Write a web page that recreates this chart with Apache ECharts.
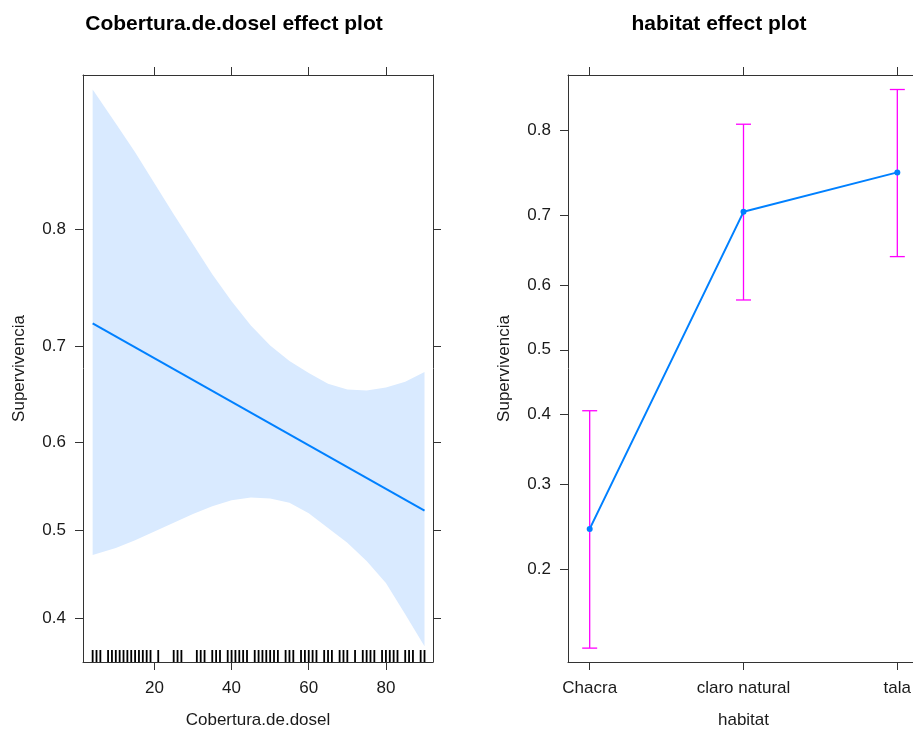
<!DOCTYPE html>
<html>
<head>
<meta charset="utf-8">
<script src="https://cdn.jsdelivr.net/npm/echarts@6/dist/echarts.min.js"></script>
<style>
html,body{margin:0;padding:0;background:#fff;overflow:hidden;}
#chart{width:913px;height:729px;}
</style>
</head>
<body>
<div id="chart"></div>
<script>
// ---- Data ----
const coberturaX = [4, 10, 15, 20, 25, 30, 35, 40, 45, 50, 55, 60, 65, 70, 75, 80, 85, 90];
const bandUpper  = [0.884, 0.867, 0.851, 0.832, 0.811, 0.789, 0.765, 0.742, 0.720, 0.701, 0.686, 0.674, 0.663, 0.657, 0.656, 0.659, 0.665, 0.675];
const bandLower  = [0.472, 0.480, 0.489, 0.499, 0.509, 0.519, 0.528, 0.535, 0.538, 0.537, 0.532, 0.520, 0.503, 0.486, 0.465, 0.440, 0.405, 0.370];
const fitX = [4, 90];
const fitP = [0.722, 0.523];
const rugX = [4, 5, 6, 8, 9, 10, 11, 12, 13, 14, 15, 16, 17, 18, 19, 21, 25, 26, 27, 31, 32, 33, 35, 36, 37, 39, 40, 41, 42, 43, 44, 46,
              47, 48, 49, 50, 51, 52, 54, 55, 56, 58, 59, 60, 61, 62, 64, 65, 66, 68, 69, 70, 72, 74, 75, 76, 77, 79, 80, 81, 82, 83, 85, 86, 87, 89, 90];

const habitatCats  = ['Chacra', 'claro natural', 'tala'];
const habitatFit   = [0.244, 0.705, 0.754];
const habitatLower = [0.132, 0.578, 0.643];
const habitatUpper = [0.405, 0.806, 0.838];

const xTicksLeft  = [20, 40, 60, 80];
const yTicksLeft  = [0.4, 0.5, 0.6, 0.7, 0.8];
const yTicksRight = [0.2, 0.3, 0.4, 0.5, 0.6, 0.7, 0.8];

// ---- helpers ----
const logit = p => Math.log(p / (1 - p));
const FONT = 'Liberation Sans, Arial, Helvetica, sans-serif';
const AX = '#333333';
const TXT = '#1a1a1a';
function probLabel(ticks) {
  return v => {
    for (const t of ticks) if (Math.abs(logit(t) - v) < 1e-6) return String(t);
    return '';
  };
}

const leftYMin = -0.605, leftYMax = 2.098;
const rightYMin = -1.971, rightYMax = 1.735;

function xAxisCfg(grid, pos, min, max, ticks, fmt, showLabel, name) {
  return {
    type: 'value', gridIndex: grid, position: pos, min: min, max: max,
    axisLine: { show: true, onZero: false, lineStyle: { color: AX, width: 1 } },
    axisTick: { show: true, inside: false, length: 8, customValues: ticks, lineStyle: { color: AX, width: 1 } },
    axisLabel: { show: showLabel, customValues: ticks, formatter: fmt, fontSize: 17, color: TXT, fontFamily: FONT, margin: 18 },
    splitLine: { show: false },
    name: name || '', nameLocation: 'middle', nameGap: 50,
    nameTextStyle: { fontSize: 17, color: TXT, fontFamily: FONT }
  };
}
function yAxisCfg(grid, pos, min, max, ticks, showLabel, name, gap) {
  const vals = ticks.map(logit);
  return {
    type: 'value', gridIndex: grid, position: pos, min: min, max: max,
    axisLine: { show: true, onZero: false, lineStyle: { color: AX, width: 1 } },
    axisTick: { show: true, inside: false, length: 8, customValues: vals, lineStyle: { color: AX, width: 1 } },
    axisLabel: { show: showLabel, customValues: vals, formatter: probLabel(ticks), fontSize: 17, color: TXT, fontFamily: FONT, margin: 17 },
    splitLine: { show: false },
    name: name || '', nameLocation: 'middle', nameGap: gap || 50, nameRotate: 90,
    nameTextStyle: { fontSize: 17, color: TXT, fontFamily: FONT }
  };
}

const chart = echarts.init(document.getElementById('chart'), null, { renderer: 'canvas' });

const bandData = coberturaX.map((x, i) => [x, logit(bandUpper[i]), logit(bandLower[i])]);

const option = {
  backgroundColor: '#ffffff',
  animation: false,
  grid: [
    { left: 83, top: 75, width: 350, height: 587, outerBoundsMode: 'none' },
    { left: 568, top: 75, width: 351, height: 587, outerBoundsMode: 'none' }
  ],
  graphic: [
    { type: 'text', x: 234, y: 24, style: { text: 'Cobertura.de.dosel effect plot', align: 'center', verticalAlign: 'middle', fontSize: 21, fontWeight: 'bold', fontFamily: FONT, fill: '#000' } },
    { type: 'text', x: 719, y: 24, style: { text: 'habitat effect plot', align: 'center', verticalAlign: 'middle', fontSize: 21, fontWeight: 'bold', fontFamily: FONT, fill: '#000' } }
  ],
  xAxis: [
    xAxisCfg(0, 'bottom', 1.5, 92.2, xTicksLeft, v => String(v), true, 'Cobertura.de.dosel'),
    xAxisCfg(0, 'top', 1.5, 92.2, xTicksLeft, v => String(v), false, ''),
    xAxisCfg(1, 'bottom', 0.859, 3.141, [1, 2, 3], v => habitatCats[Math.round(v) - 1] || '', true, 'habitat'),
    xAxisCfg(1, 'top', 0.859, 3.141, [1, 2, 3], v => '', false, '')
  ],
  yAxis: [
    yAxisCfg(0, 'left', leftYMin, leftYMax, yTicksLeft, true, 'Supervivencia', 55),
    yAxisCfg(0, 'right', leftYMin, leftYMax, yTicksLeft, false, ''),
    yAxisCfg(1, 'left', rightYMin, rightYMax, yTicksRight, true, 'Supervivencia', 55),
    yAxisCfg(1, 'right', rightYMin, rightYMax, yTicksRight, false, '')
  ],
  series: [
    {
      type: 'custom', xAxisIndex: 0, yAxisIndex: 0, z: 1,
      data: bandData,
      encode: { x: 0, y: [1, 2] },
      renderItem: function (params, api) {
        if (params.dataIndex !== 0) return null;
        const pts = [];
        for (let i = 0; i < bandData.length; i++) pts.push(api.coord([bandData[i][0], bandData[i][1]]));
        for (let i = bandData.length - 1; i >= 0; i--) pts.push(api.coord([bandData[i][0], bandData[i][2]]));
        return { type: 'polygon', shape: { points: pts }, style: { fill: '#D9EAFF', stroke: null } };
      }
    },
    {
      type: 'line', xAxisIndex: 0, yAxisIndex: 0, z: 3,
      data: fitX.map((x, i) => [x, logit(fitP[i])]),
      symbol: 'none', lineStyle: { color: '#0080FF', width: 2 }
    },
    {
      type: 'custom', xAxisIndex: 0, yAxisIndex: 0, z: 4,
      data: rugX.map(x => [x, leftYMin]),
      renderItem: function (params, api) {
        const p = api.coord([api.value(0), api.value(1)]);
        return { type: 'line', shape: { x1: p[0], y1: p[1], x2: p[0], y2: p[1] - 12 }, style: { stroke: '#000', lineWidth: 1.8 } };
      }
    },
    {
      type: 'custom', xAxisIndex: 2, yAxisIndex: 2, z: 2,
      data: habitatCats.map((c, i) => [i + 1, logit(habitatLower[i]), logit(habitatUpper[i])]),
      encode: { x: 0, y: [1, 2] },
      renderItem: function (params, api) {
        const lo = api.coord([api.value(0), api.value(1)]);
        const hi = api.coord([api.value(0), api.value(2)]);
        const w = 7.5;
        const st = { stroke: '#FF00FF', lineWidth: 1.3 };
        return { type: 'group', children: [
          { type: 'line', shape: { x1: lo[0], y1: lo[1], x2: hi[0], y2: hi[1] }, style: st },
          { type: 'line', shape: { x1: lo[0] - w, y1: lo[1], x2: lo[0] + w, y2: lo[1] }, style: st },
          { type: 'line', shape: { x1: hi[0] - w, y1: hi[1], x2: hi[0] + w, y2: hi[1] }, style: st }
        ] };
      }
    },
    {
      type: 'line', xAxisIndex: 2, yAxisIndex: 2, z: 3,
      data: habitatCats.map((c, i) => [i + 1, logit(habitatFit[i])]),
      symbol: 'circle', symbolSize: 6, showSymbol: true,
      itemStyle: { color: '#0080FF' },
      lineStyle: { color: '#0080FF', width: 2 }
    }
  ]
};
chart.setOption(option);
</script>
</body>
</html>
